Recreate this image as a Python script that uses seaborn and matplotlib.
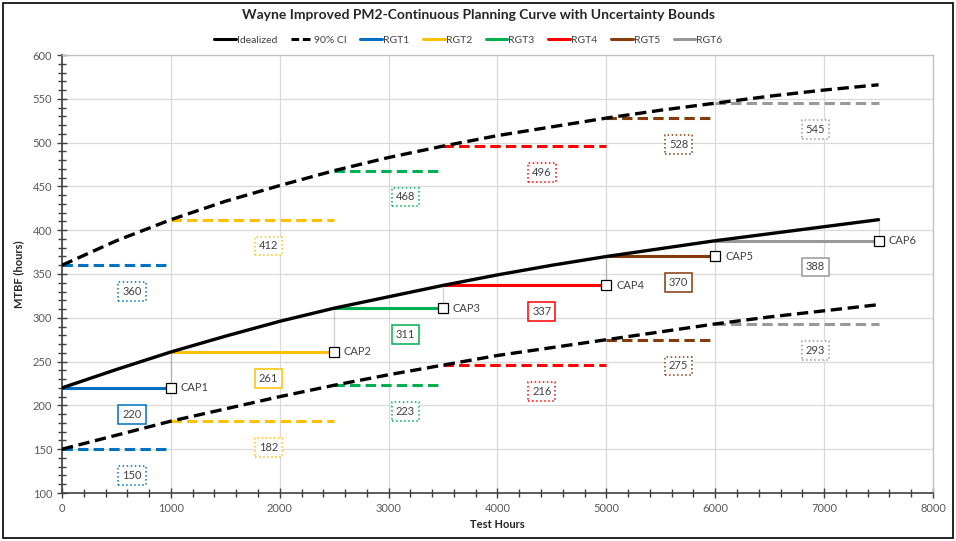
import numpy as np
import pandas as pd
import matplotlib
matplotlib.use("Agg")
import matplotlib.pyplot as plt
import seaborn as sns
from matplotlib.ticker import MultipleLocator
from matplotlib.lines import Line2D
from matplotlib.patches import Rectangle

# ---------------- data ----------------
hours = [0, 500, 1000, 1500, 2000, 2500, 3000, 3500, 4000, 4500, 5000, 5500, 6000, 6500, 7000, 7500]
idealized = [220, 241, 261, 279, 296, 311, 324, 337, 349, 360, 370, 379, 388, 396, 404, 412]
upper_ci = [360, 388, 412, 433, 451, 468, 483, 496, 508, 518, 528, 537, 545, 553, 560, 566]
lower_ci = [150, 166, 182, 196, 210, 223, 235, 246, 257, 266, 275, 284, 293, 301, 308, 315]

rgt_names = ["RGT1", "RGT2", "RGT3", "RGT4", "RGT5", "RGT6"]
rgt_start = [0, 1000, 2500, 3500, 5000, 6000]
rgt_end = [1000, 2500, 3500, 5000, 6000, 7500]
rgt_mtbf = [220, 261, 311, 337, 370, 388]
rgt_upper = [360, 412, 468, 496, 528, 545]
rgt_lower = [150, 182, 223, 246, 275, 293]

mid_labels = ["220", "261", "311", "337", "370", "388"]
upper_labels = ["360", "412", "468", "496", "528", "545"]
lower_labels = ["150", "182", "223", "216", "275", "293"]

cap_names = ["CAP1", "CAP2", "CAP3", "CAP4", "CAP5", "CAP6"]
cap_ideal = [261, 311, 337, 370, 388, 412]

rgt_colors = ["#0070C0", "#FFC000", "#00B050", "#FF0000", "#843C0C", "#999999"]

# ---------------- style ----------------
sns.set_style("white")
plt.rcParams["font.family"] = ["Lato", "DejaVu Sans"]

fig = plt.figure(figsize=(9.56, 5.41), dpi=100)
ax = fig.add_axes([62 / 956, 1 - 493 / 541, (933 - 62) / 956, (493 - 55) / 541])

DASH = (0, (3.4, 1.7))
LW = 2.2

curve_df = pd.DataFrame({"hours": hours, "ideal": idealized, "upper": upper_ci, "lower": lower_ci})

# RGT segments
for i, name in enumerate(rgt_names):
    seg = pd.DataFrame({"x": [rgt_start[i], rgt_end[i]],
                        "mid": [rgt_mtbf[i]] * 2,
                        "up": [rgt_upper[i]] * 2,
                        "lo": [rgt_lower[i]] * 2})
    c = rgt_colors[i]
    sns.lineplot(data=seg, x="x", y="mid", ax=ax, color=c, lw=LW, zorder=2)
    sns.lineplot(data=seg, x="x", y="up", ax=ax, color=c, lw=LW, linestyle=DASH, zorder=2)
    sns.lineplot(data=seg, x="x", y="lo", ax=ax, color=c, lw=LW, linestyle=DASH, zorder=2)

# curves
sns.lineplot(data=curve_df, x="hours", y="ideal", ax=ax, color="black", lw=2.4, zorder=3)
sns.lineplot(data=curve_df, x="hours", y="upper", ax=ax, color="black", lw=2.4, linestyle=DASH, zorder=3)
sns.lineplot(data=curve_df, x="hours", y="lower", ax=ax, color="black", lw=2.4, linestyle=DASH, zorder=3)

# CAP markers
for i, name in enumerate(cap_names):
    cap = pd.DataFrame({"x": [rgt_end[i], rgt_end[i]], "y": [cap_ideal[i], rgt_mtbf[i]]})
    sns.lineplot(data=cap, x="x", y="y", ax=ax, color="#1a1a1a", lw=1.2, zorder=4)
    ax.plot([rgt_end[i]], [rgt_mtbf[i]], marker="s", ms=6.5, mfc="white", mec="black",
            mew=0.9, zorder=5, ls="none")
    ax.text(rgt_end[i] + 90, rgt_mtbf[i], name, fontsize=8, color="#404040",
            va="center", ha="left", zorder=6)

# boxed value labels
for i in range(6):
    xl = 643 + i * 1255
    c = rgt_colors[i]
    ax.text(xl, rgt_mtbf[i] - 30, mid_labels[i], ha="center", va="center", fontsize=8,
            color="#404040", zorder=6,
            bbox=dict(boxstyle="square,pad=0.35", fc="white", ec=c, lw=1.1))
    ax.text(xl, rgt_upper[i] - 30, upper_labels[i], ha="center", va="center", fontsize=8,
            color="#404040", zorder=6,
            bbox=dict(boxstyle="square,pad=0.35", fc="white", ec=c, lw=1.1, ls=":"))
    ax.text(xl, rgt_lower[i] - 30, lower_labels[i], ha="center", va="center", fontsize=8,
            color="#404040", zorder=6,
            bbox=dict(boxstyle="square,pad=0.35", fc="white", ec=c, lw=1.1, ls=":"))

# axes
ax.set_xlim(0, 8000)
ax.set_ylim(100, 600)
ax.xaxis.set_major_locator(MultipleLocator(1000))
ax.xaxis.set_minor_locator(MultipleLocator(200))
ax.yaxis.set_major_locator(MultipleLocator(50))
ax.yaxis.set_minor_locator(MultipleLocator(10))
ax.grid(True, which="major", color="#D9D9D9", lw=0.9, zorder=0)
ax.set_axisbelow(True)
ax.tick_params(axis="both", which="both", bottom=True, left=True, top=False, right=False)
ax.tick_params(axis="both", which="major", direction="inout", length=7, width=1,
               color="#404040", labelsize=8, labelcolor="#595959")
ax.tick_params(axis="both", which="minor", direction="inout", length=6, width=1, color="#404040")
for s in ["left", "bottom"]:
    ax.spines[s].set_color("#404040")
    ax.spines[s].set_linewidth(1.2)
for s in ["top", "right"]:
    ax.spines[s].set_color("#BFBFBF")
    ax.spines[s].set_linewidth(0.9)
ax.set_xlabel("Test Hours", fontsize=8, fontweight="bold", labelpad=4)
ax.set_ylabel("MTBF (hours)", fontsize=8, fontweight="bold", labelpad=6)

fig.text(0.5, 1 - 15 / 541, "Wayne Improved PM2-Continuous Planning Curve with Uncertainty Bounds",
         ha="center", va="center", fontsize=10, fontweight="bold")

handles = [Line2D([], [], color="black", lw=2.2),
           Line2D([], [], color="black", lw=2.2, ls=(0, (2.5, 1.2)))]
labels = ["Idealized", "90% CI"]
for i, name in enumerate(rgt_names):
    handles.append(Line2D([], [], color=rgt_colors[i], lw=2.2))
    labels.append(name)
fig.legend(handles, labels, loc="center", bbox_to_anchor=(0.49, 1 - 40 / 541), ncol=8,
           frameon=False, fontsize=7.5, handlelength=2.1, handletextpad=0.1, columnspacing=1.3,
           labelcolor="#404040")

fig.add_artist(Rectangle((3 / 956, 3 / 541), 950 / 956, 535 / 541, transform=fig.transFigure,
                         fill=False, ec="black", lw=1.2))

fig.savefig("out.png", dpi=100)
